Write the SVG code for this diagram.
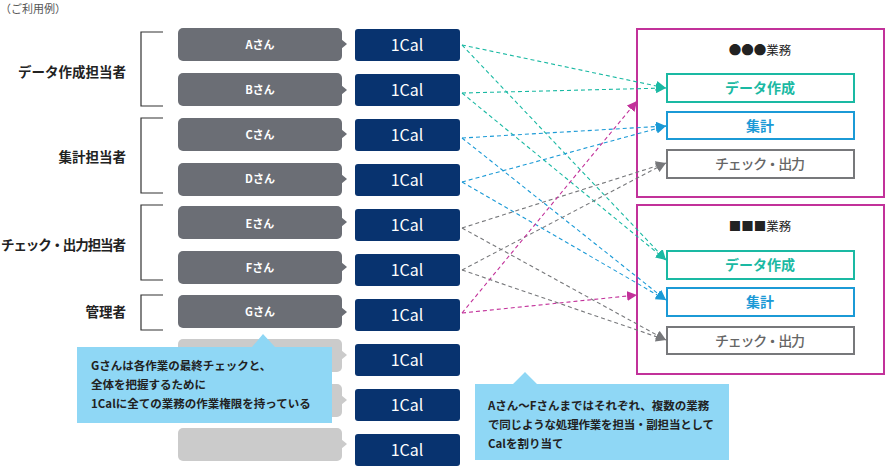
<svg xmlns="http://www.w3.org/2000/svg" width="885" height="475" viewBox="0 0 885 475">
<defs>
<style>
text{font-family:"Noto Sans CJK JP","Noto Sans",sans-serif}
.person{fill:#6b6e75}
.empty{fill:#cbcbcb}
.ptxt{fill:#fff;font-size:11px;font-weight:700;text-anchor:middle}
.cal{fill:#08336f}
.ctxt{fill:#fff;font-size:16px;font-weight:400;text-anchor:middle;font-family:"Noto Sans CJK JP","Noto Sans",sans-serif}
.br{fill:none;stroke:#333;stroke-width:1.2}
.role{font-size:13.5px;font-weight:700;fill:#222;text-anchor:end}
.outer{fill:#fff;stroke:#c2319a;stroke-width:2}
.inner{fill:#fff;stroke-width:2}
.btitle{font-size:12.5px;fill:#222;text-anchor:middle}
.itxt{font-size:14px;font-weight:700;text-anchor:middle}
.chk{font-size:14px;font-weight:500;text-anchor:middle;fill:#666}
.callout{fill:#8fd7f5}
.cotxt{font-size:11.5px;font-weight:700;fill:#222}
.dl{fill:none;stroke-width:1.1;stroke-dasharray:4 3}
</style>
<marker id="aT" markerWidth="11" markerHeight="10" refX="10" refY="5" orient="auto" markerUnits="userSpaceOnUse"><path d="M0,0 L10,5 L0,10 Z" fill="#1ab9a3"/></marker>
<marker id="aB" markerWidth="11" markerHeight="10" refX="10" refY="5" orient="auto" markerUnits="userSpaceOnUse"><path d="M0,0 L10,5 L0,10 Z" fill="#1b9ad6"/></marker>
<marker id="aG" markerWidth="11" markerHeight="10" refX="10" refY="5" orient="auto" markerUnits="userSpaceOnUse"><path d="M0,0 L10,5 L0,10 Z" fill="#77787b"/></marker>
<marker id="aM" markerWidth="11" markerHeight="10" refX="10" refY="5" orient="auto" markerUnits="userSpaceOnUse"><path d="M0,0 L10,5 L0,10 Z" fill="#c2319a"/></marker>
<path id="ptr" d="M0,-5 L6,0 L0,5 Z"/>
</defs>
<rect width="885" height="475" fill="#fff"/>
<text x="0" y="13" style="font-size:11px;fill:#555">（ご利用例）</text>

<g id="roles">
<path class="br" d="M163,32 H141 V106 H163"/>
<path class="br" d="M163,118 H141 V193 H163"/>
<path class="br" d="M163,205 H141 V280 H163"/>
<path class="br" d="M163,295 H141 V330 H163"/>
<text class="role" x="126" y="77">データ作成担当者</text>
<text class="role" x="126" y="162">集計担当者</text>
<text class="role" x="126" y="250" textLength="125" lengthAdjust="spacing">チェック・出力担当者</text>
<text class="role" x="126" y="317">管理者</text>
</g>

<g id="persons">
<g id="pA"><rect class="person" x="178" y="28" width="164" height="33" rx="5"/><use href="#ptr" class="person" x="341" y="44"/><text class="ptxt" x="260" y="49">Aさん</text></g>
<g id="pB"><rect class="person" x="178" y="73" width="164" height="33" rx="5"/><use href="#ptr" class="person" x="341" y="90"/><text class="ptxt" x="260" y="94">Bさん</text></g>
<g id="pC"><rect class="person" x="178" y="118" width="164" height="33" rx="5"/><use href="#ptr" class="person" x="341" y="134"/><text class="ptxt" x="260" y="139">Cさん</text></g>
<g id="pD"><rect class="person" x="178" y="163" width="164" height="33" rx="5"/><use href="#ptr" class="person" x="341" y="179"/><text class="ptxt" x="260" y="183">Dさん</text></g>
<g id="pE"><rect class="person" x="178" y="206" width="164" height="33" rx="5"/><use href="#ptr" class="person" x="341" y="222"/><text class="ptxt" x="260" y="228">Eさん</text></g>
<g id="pF"><rect class="person" x="178" y="251" width="164" height="33" rx="5"/><use href="#ptr" class="person" x="341" y="267"/><text class="ptxt" x="260" y="272">Fさん</text></g>
<g id="pG"><rect class="person" x="178" y="295" width="164" height="33" rx="5"/><use href="#ptr" class="person" x="341" y="312"/><text class="ptxt" x="260" y="316">Gさん</text></g>
<g id="pH"><rect class="empty" x="178" y="339" width="164" height="33" rx="5"/><use href="#ptr" class="empty" x="341" y="355"/></g>
<g id="pI"><rect class="empty" x="178" y="384" width="164" height="33" rx="5"/><use href="#ptr" class="empty" x="341" y="400"/></g>
<g id="pJ"><rect class="empty" x="178" y="428" width="164" height="33" rx="5"/><use href="#ptr" class="empty" x="341" y="444"/></g>
</g>

<g id="cals">
<g id="c1"><rect class="cal" x="355" y="29" width="105" height="32" rx="3"/><text class="ctxt" x="407" y="51">1Cal</text></g>
<g id="c2"><rect class="cal" x="355" y="74" width="105" height="32" rx="3"/><text class="ctxt" x="407" y="96">1Cal</text></g>
<g id="c3"><rect class="cal" x="355" y="119" width="105" height="32" rx="3"/><text class="ctxt" x="407" y="141">1Cal</text></g>
<g id="c4"><rect class="cal" x="355" y="164" width="105" height="32" rx="3"/><text class="ctxt" x="407" y="186">1Cal</text></g>
<g id="c5"><rect class="cal" x="355" y="209" width="105" height="32" rx="3"/><text class="ctxt" x="407" y="231">1Cal</text></g>
<g id="c6"><rect class="cal" x="355" y="254" width="105" height="32" rx="3"/><text class="ctxt" x="407" y="276">1Cal</text></g>
<g id="c7"><rect class="cal" x="355" y="299" width="105" height="32" rx="3"/><text class="ctxt" x="407" y="321">1Cal</text></g>
<g id="c8"><rect class="cal" x="355" y="344" width="105" height="32" rx="3"/><text class="ctxt" x="407" y="366">1Cal</text></g>
<g id="c9"><rect class="cal" x="355" y="389" width="105" height="32" rx="3"/><text class="ctxt" x="407" y="411">1Cal</text></g>
<g id="c10"><rect class="cal" x="355" y="434" width="105" height="32" rx="3"/><text class="ctxt" x="407" y="456">1Cal</text></g>
</g>

<g id="work1">
<rect class="outer" x="637" y="29" width="247" height="168"/>
<text class="btitle" x="760" y="55">●●●業務</text>
<g id="w1a"><rect class="inner" x="667" y="74" width="187" height="28" stroke="#1ab9a3"/><text class="itxt" x="760" y="93" fill="#1ab9a3">データ作成</text></g>
<g id="w1b"><rect class="inner" x="667" y="112" width="187" height="27" stroke="#1b9ad6"/><text class="itxt" x="760" y="131" fill="#1b9ad6">集計</text></g>
<g id="w1c"><rect class="inner" x="667" y="150" width="187" height="28" stroke="#77787b"/><text class="chk" x="760" y="169" textLength="90" lengthAdjust="spacing">チェック・出力</text></g>
</g>

<g id="work2">
<rect class="outer" x="637" y="205" width="247" height="169"/>
<text class="btitle" x="760" y="231">■■■業務</text>
<g id="w2a"><rect class="inner" x="667" y="251" width="187" height="28" stroke="#1ab9a3"/><text class="itxt" x="760" y="270" fill="#1ab9a3">データ作成</text></g>
<g id="w2b"><rect class="inner" x="667" y="288" width="187" height="28" stroke="#1b9ad6"/><text class="itxt" x="760" y="307" fill="#1b9ad6">集計</text></g>
<g id="w2c"><rect class="inner" x="667" y="327" width="187" height="27" stroke="#77787b"/><text class="chk" x="760" y="346" textLength="90" lengthAdjust="spacing">チェック・出力</text></g>
</g>

<g id="connectors">
<g stroke="#1ab9a3" class="dl" marker-end="url(#aT)">
<line class="dl" x1="462" y1="45" x2="666" y2="88"/>
<line class="dl" x1="462" y1="93" x2="666" y2="88"/>
<line class="dl" x1="462" y1="45" x2="666" y2="260"/>
<line class="dl" x1="462" y1="93" x2="666" y2="260"/>
</g>
<g stroke="#1b9ad6" class="dl" marker-end="url(#aB)">
<line class="dl" x1="462" y1="138" x2="666" y2="126"/>
<line class="dl" x1="462" y1="182" x2="666" y2="126"/>
<line class="dl" x1="462" y1="138" x2="666" y2="300"/>
<line class="dl" x1="462" y1="182" x2="666" y2="300"/>
</g>
<g stroke="#77787b" class="dl" marker-end="url(#aG)">
<line class="dl" x1="462" y1="228" x2="666" y2="163"/>
<line class="dl" x1="462" y1="270" x2="666" y2="163"/>
<line class="dl" x1="462" y1="228" x2="666" y2="340"/>
<line class="dl" x1="462" y1="270" x2="666" y2="340"/>
</g>
<g stroke="#c2319a" class="dl" marker-end="url(#aM)">
<line class="dl" x1="462" y1="313" x2="637" y2="101"/>
<line class="dl" x1="462" y1="313" x2="637" y2="295"/>
</g>
</g>

<g id="note1">
<path class="callout" d="M77,347 H252 L263,334 L275,347 H332 V423 H77 Z"/>
<text class="cotxt" x="91" y="370">Gさんは各作業の最終チェックと、</text>
<text class="cotxt" x="91" y="389">全体を把握するために</text>
<text class="cotxt" x="91" y="408">1Calに全ての業務の作業権限を持っている</text>
</g>

<g id="note2">
<path class="callout" d="M475,384 H513 L525,372 L537,384 H729 V460 H475 Z"/>
<text class="cotxt" x="488" y="410">Aさん〜Fさんまではそれぞれ、複数の業務</text>
<text class="cotxt" x="488" y="429" textLength="226" lengthAdjust="spacing">で同じような処理作業を担当・副担当として</text>
<text class="cotxt" x="488" y="448">Calを割り当て</text>
</g>
</svg>
